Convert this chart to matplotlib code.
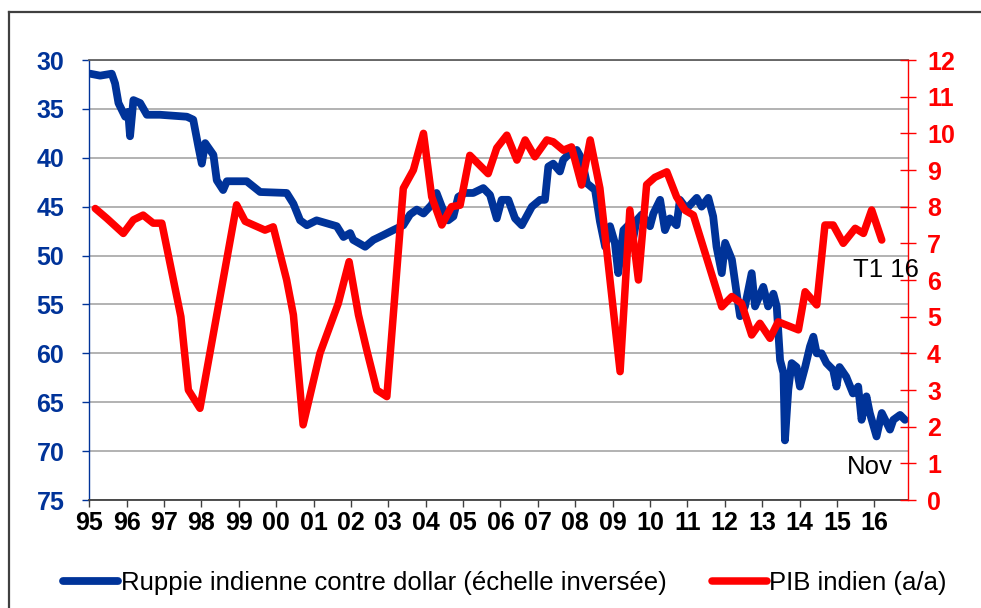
import matplotlib
matplotlib.use("Agg")
import matplotlib.pyplot as plt
from matplotlib.lines import Line2D

plt.rcParams['font.family'] = ['Liberation Sans', 'DejaVu Sans']

# Rupee vs USD (inverted scale) -- (fractional year, INR per USD)
inr_years = [1995.02, 1995.29, 1995.60, 1995.69, 1995.78, 1995.96, 1996.04, 1996.09, 1996.18, 1996.36,
             1996.54, 1996.89, 1997.61, 1997.78, 1997.92, 1998.01, 1998.10, 1998.32, 1998.41, 1998.58,
             1998.68, 1999.21, 1999.57, 2000.28, 2000.46, 2000.64, 2000.82, 2001.08, 2001.62, 2001.80,
             2001.98, 2002.06, 2002.38, 2002.60, 2002.87, 2003.13, 2003.40, 2003.58, 2003.76, 2003.94,
             2004.16, 2004.29, 2004.43, 2004.60, 2004.74, 2004.87, 2005.05, 2005.27, 2005.54, 2005.72,
             2005.90, 2006.03, 2006.21, 2006.39, 2006.57, 2006.84, 2007.06, 2007.19, 2007.28, 2007.41,
             2007.59, 2007.68, 2007.81, 2008.04, 2008.17, 2008.31, 2008.53, 2008.66, 2008.80, 2008.93,
             2009.06, 2009.15, 2009.29, 2009.42, 2009.51, 2009.64, 2009.78, 2010.00, 2010.09, 2010.27,
             2010.40, 2010.53, 2010.71, 2010.80, 2010.98, 2011.25, 2011.38, 2011.56, 2011.69, 2011.78,
             2011.92, 2012.01, 2012.19, 2012.32, 2012.41, 2012.54, 2012.72, 2012.81, 2013.03, 2013.16,
             2013.30, 2013.39, 2013.48, 2013.57, 2013.61, 2013.70, 2013.79, 2013.92, 2014.01, 2014.15,
             2014.28, 2014.37, 2014.46, 2014.59, 2014.72, 2014.90, 2014.99, 2015.07, 2015.25, 2015.43,
             2015.57, 2015.66, 2015.79, 2015.88, 2016.06, 2016.20, 2016.42, 2016.51, 2016.69, 2016.82]
inr_values = [31.4, 31.6, 31.4, 32.4, 34.4, 35.8, 35.3, 37.8, 34.1, 34.4,
              35.6, 35.6, 35.8, 36.1, 38.9, 40.6, 38.5, 39.7, 42.3, 43.3,
              42.4, 42.4, 43.5, 43.6, 44.7, 46.4, 46.9, 46.4, 47.0, 48.1,
              47.7, 48.4, 49.1, 48.4, 47.9, 47.4, 46.9, 45.8, 45.3, 45.7,
              44.8, 43.6, 45.0, 46.4, 46.0, 44.0, 43.6, 43.6, 43.1, 43.8,
              46.2, 44.3, 44.3, 46.2, 46.9, 45.0, 44.3, 44.3, 40.9, 40.6,
              41.4, 40.2, 39.7, 39.2, 40.1, 42.6, 43.3, 46.5, 49.1, 47.0,
              48.7, 51.8, 47.4, 46.9, 49.1, 46.4, 45.8, 47.0, 45.7, 44.3,
              47.4, 46.2, 46.9, 44.3, 45.2, 44.1, 45.0, 44.1, 46.0, 49.1,
              51.8, 48.7, 50.4, 53.9, 56.2, 55.2, 51.8, 55.2, 53.2, 55.2,
              53.9, 55.2, 60.7, 62.0, 68.9, 63.7, 61.0, 61.4, 63.4, 61.4,
              59.3, 58.3, 60.0, 60.0, 61.0, 61.7, 63.4, 61.4, 62.4, 64.1,
              63.4, 66.8, 64.4, 66.1, 68.5, 66.1, 67.8, 66.8, 66.3, 66.8]

# Indian GDP growth y/y (%)
gdp_years = [1995.16, 1995.47, 1995.91, 1996.18, 1996.44, 1996.71, 1996.94, 1997.25, 1997.45, 1997.65,
             1997.96, 1998.94, 1999.17, 1999.39, 1999.70, 1999.92, 2000.28, 2000.46, 2000.72, 2001.17,
             2001.66, 2001.95, 2002.20, 2002.42, 2002.69, 2002.96, 2003.40, 2003.67, 2003.94, 2004.16,
             2004.43, 2004.69, 2004.92, 2005.18, 2005.67, 2005.90, 2006.17, 2006.44, 2006.66, 2006.92,
             2007.24, 2007.41, 2007.68, 2007.90, 2008.17, 2008.40, 2008.66, 2009.20, 2009.46, 2009.69,
             2009.91, 2010.13, 2010.45, 2010.71, 2010.94, 2011.16, 2011.92, 2012.19, 2012.45, 2012.72,
             2012.94, 2013.21, 2013.43, 2013.97, 2014.15, 2014.46, 2014.68, 2014.90, 2015.17, 2015.49,
             2015.71, 2015.93, 2016.20]
gdp_values = [7.95, 7.68, 7.27, 7.64, 7.77, 7.55, 7.55, 6.0, 5.0, 3.0,
              2.5, 8.05, 7.6, 7.5, 7.36, 7.45, 6.0, 5.05, 2.05, 4.0,
              5.36, 6.5, 5.05, 4.1, 3.0, 2.82, 8.5, 9.0, 10.0, 8.27,
              7.5, 8.0, 8.04, 9.4, 8.9, 9.6, 9.95, 9.27, 9.82, 9.36,
              9.82, 9.77, 9.54, 9.63, 8.59, 9.82, 8.5, 3.5, 7.91, 6.0,
              8.6, 8.8, 8.95, 8.27, 7.9, 7.77, 5.27, 5.55, 5.36, 4.5,
              4.82, 4.41, 4.86, 4.64, 5.68, 5.32, 7.5, 7.5, 7.0, 7.41,
              7.27, 7.91, 7.09]

year_ticks = list(range(1995, 2017))
year_labels = ['95', '96', '97', '98', '99', '00', '01', '02', '03', '04', '05',
               '06', '07', '08', '09', '10', '11', '12', '13', '14', '15', '16']
left_ticks = [30, 35, 40, 45, 50, 55, 60, 65, 70, 75]
right_ticks = list(range(0, 13))

BLUE = '#003399'
RED = '#ff0000'

W, H = 981, 608
fig = plt.figure(figsize=(W / 100, H / 100), dpi=100)
fig.patch.set_facecolor('white')

L, R, T, B = 89.3, 908.3, 60, 500
ax = fig.add_axes([L / W, 1 - B / H, (R - L) / W, (B - T) / H])
ax2 = ax.twinx()

ax.plot(inr_years, inr_values, color=BLUE, lw=5.6, solid_joinstyle='round', solid_capstyle='round',
        label='Ruppie indienne contre dollar (échelle inversée)', zorder=3)
ax2.plot(gdp_years, gdp_values, color=RED, lw=5.4, solid_joinstyle='round', solid_capstyle='round',
         label='PIB indien (a/a)', zorder=3)

ax.set_xlim(1995, 2016.91)
ax.set_ylim(75, 30)
ax2.set_ylim(0, 12)

ax.set_yticks(left_ticks)
ax.set_yticklabels([str(v) for v in left_ticks])
ax2.set_yticks(right_ticks)
ax2.set_yticklabels([str(v) for v in right_ticks])
ax.set_xticks(year_ticks)
ax.set_xticklabels(year_labels)

ax.grid(axis='y', color='#a6a6a6', lw=1.2)
ax.grid(axis='x', visible=False)
ax.set_axisbelow(True)

for sp in ['left', 'right', 'top', 'bottom']:
    ax2.spines[sp].set_visible(False)
ax.spines['right'].set_visible(False)
ax.spines['left'].set_color(BLUE)
ax.spines['left'].set_linewidth(1.0)
ax.spines['top'].set_color('#606060')
ax.spines['top'].set_linewidth(1.3)
ax.spines['bottom'].set_color('#404040')
ax.spines['bottom'].set_linewidth(1.3)
ax2.spines['right'].set_visible(True)
ax2.spines['right'].set_color(RED)
ax2.spines['right'].set_linewidth(1.0)

ax.tick_params(axis='y', colors=BLUE, labelsize=18, length=5, width=1, direction='out', pad=13)
for t in ax.get_yticklabels():
    t.set_fontweight('bold')
ax.tick_params(axis='x', colors='#404040', labelcolor='black', labelsize=18, length=5, width=1,
               direction='out', pad=3)
for t in ax.get_xticklabels():
    t.set_fontweight('bold')
ax2.tick_params(axis='y', colors=RED, labelsize=18, length=11, width=1, direction='inout', pad=8)
for t in ax2.get_yticklabels():
    t.set_fontweight('bold')

ax2.text(2015.43, 6.27, 'T1 16', fontsize=18.5, ha='left', va='center', color='black')
ax2.text(2015.27, 0.9, 'Nov', fontsize=18.5, ha='left', va='center', color='black')

h1, l1 = ax.get_legend_handles_labels()
h2, l2 = ax2.get_legend_handles_labels()
fig.legend(h1 + h2, l1 + l2, loc='center left', bbox_to_anchor=(63 / W, 1 - 583 / H),
           ncol=2, frameon=False, fontsize=18.5, handlelength=2.15, handletextpad=0.1,
           columnspacing=1.75, borderpad=0, borderaxespad=0)

# outer border of the chart area
fig.add_artist(Line2D([9 / W, 9 / W], [0, 1 - 12 / H], transform=fig.transFigure, color='#404040', lw=1.6))
fig.add_artist(Line2D([9 / W, 1], [1 - 12 / H, 1 - 12 / H], transform=fig.transFigure, color='#404040', lw=1.6))

fig.savefig('out.png', dpi=100)
